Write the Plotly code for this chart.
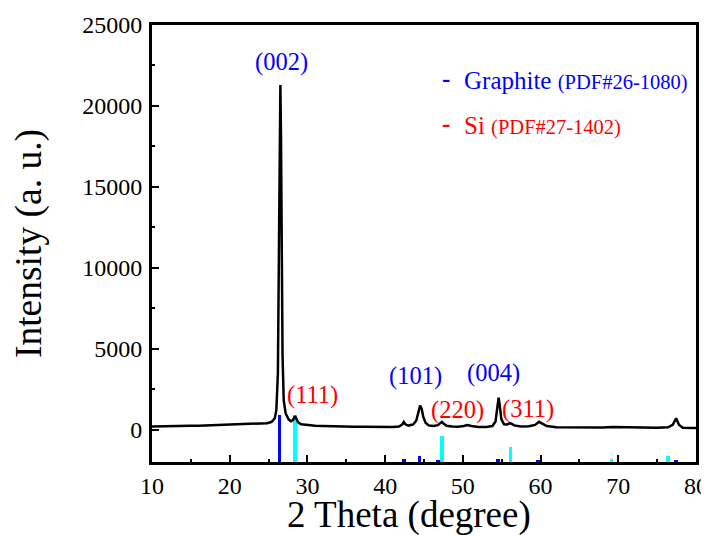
import plotly.graph_objects as go

# XRD pattern (2theta in degrees, intensity in a.u.)
two_theta = [10.0, 11, 12, 13, 14, 15, 16, 17, 18, 19, 20, 21, 22, 23, 24, 24.8, 25.4, 25.8,
             26.0, 26.2, 26.35, 26.45, 26.52, 26.6, 26.7, 26.8, 26.95, 27.2, 27.6, 27.9, 28.15,
             28.4, 28.55, 28.8, 29.2, 30, 31, 32, 33, 34, 35, 36, 37, 38, 39, 40, 41, 41.8,
             42.2, 42.4, 42.6, 43.0, 43.6, 44.0, 44.3, 44.5, 44.7, 44.9, 45.2, 45.6, 46.2, 46.8,
             47.1, 47.3, 47.5, 47.9, 48.6, 49.4, 50.1, 50.6, 51.1, 52, 53, 53.8, 54.2, 54.45,
             54.6, 54.75, 54.95, 55.3, 55.7, 56.0, 56.2, 56.6, 57.5, 58.5, 59.3, 59.8, 60.2,
             60.8, 62, 64, 66, 68, 69.3, 70, 71, 73, 75, 76.4, 77.0, 77.45, 77.8, 78.3, 79, 80]
intensity = [200, 215, 210, 225, 220, 240, 235, 255, 260, 285, 300, 315, 345, 340, 370, 400, 480, 700,
             1200, 3500, 12000, 19500, 21300, 18000, 10500, 4500, 1800, 1000, 620, 520, 600,
             830, 700, 450, 330, 270, 240, 225, 205, 200, 195, 180, 185, 170, 175, 165, 165, 190,
             320, 470, 330, 250, 320, 550, 1100, 1480, 1300, 800, 420, 260, 220, 280,
             400, 480, 380, 240, 190, 180, 220, 290, 230, 170, 170, 220, 500, 1400,
             1980, 1500, 650, 330, 320, 390, 380, 260, 200, 210, 290, 480, 360,
             220, 150, 130, 120, 130, 170, 160, 130, 110, 110, 140, 300, 700, 300, 120, 100, 100]

# Reference stick patterns (top of each stick, same intensity scale; sticks start at axis bottom)
stick_base = -2000
graphite_pos = [26.4, 42.4, 44.4, 46.8, 54.5, 59.7, 77.4]
graphite_top = [900, -1800, -1600, -1850, -1800, -1850, -1850]
si_pos = [28.4, 47.3, 56.1, 69.1, 76.4]
si_top = [900, -400, -1100, -1800, -1650]

# Peak labels
blue_labels = ["(002)", "(101)", "(004)"]
blue_label_x = [26.6, 43.85, 53.9]
blue_label_y = [22700, 3300, 3500]
red_labels = ["(111)", "(220)", "(311)"]
red_label_x = [30.7, 49.3, 58.4]
red_label_y = [2150, 1200, 1250]

y_ticks = [0, 5000, 10000, 15000, 20000, 25000]

FONT = "Liberation Serif, Times New Roman, serif"

fig = go.Figure()
fig.add_trace(go.Bar(x=graphite_pos, y=[t - stick_base for t in graphite_top], base=stick_base,
                     width=0.45, marker=dict(color="#0000ff", line=dict(width=0)), showlegend=False))
fig.add_trace(go.Bar(x=si_pos, y=[t - stick_base for t in si_top], base=stick_base,
                     width=0.45, marker=dict(color="#00ffff", line=dict(width=0)), showlegend=False))
fig.add_trace(go.Scatter(x=two_theta, y=intensity, mode="lines",
                         line=dict(color="black", width=2.5), showlegend=False))

for t, x, y in zip(blue_labels, blue_label_x, blue_label_y):
    fig.add_annotation(x=x, y=y, text=t, showarrow=False, font=dict(family=FONT, size=24.5, color="#0000ff"))
for t, x, y in zip(red_labels, red_label_x, red_label_y):
    fig.add_annotation(x=x, y=y, text=t, showarrow=False, font=dict(family=FONT, size=24.5, color="#ff0000"))

# legend
fig.add_annotation(xref="paper", yref="paper", x=0.540, y=0.878, xanchor="center", yanchor="middle",
                   text="<b>-</b>", showarrow=False, font=dict(family=FONT, size=25, color="#0000ff"))
fig.add_annotation(xref="paper", yref="paper", x=0.569, y=0.874, xanchor="left", yanchor="middle",
                   text="Graphite <span style='font-size:20.5px'>(PDF#26-1080)</span>", showarrow=False,
                   font=dict(family=FONT, size=25, color="#0000ff"))
fig.add_annotation(xref="paper", yref="paper", x=0.540, y=0.775, xanchor="center", yanchor="middle",
                   text="<b>-</b>", showarrow=False, font=dict(family=FONT, size=25, color="#ff0000"))
fig.add_annotation(xref="paper", yref="paper", x=0.569, y=0.771, xanchor="left", yanchor="middle",
                   text="Si <span style='font-size:20.5px'>(PDF#27-1402)</span>", showarrow=False,
                   font=dict(family=FONT, size=25, color="#ff0000"))

# x-axis title (placed slightly left of centre as in the original)
fig.add_annotation(xref="paper", yref="paper", x=0.472, y=-0.122, xanchor="center", yanchor="middle",
                   text="2 Theta (degree)", showarrow=False,
                   font=dict(family=FONT, size=37, color="black"))

axis_common = dict(showline=True, linecolor="black", linewidth=3, mirror=True, ticks="inside",
                   tickcolor="black", tickwidth=2, ticklen=7, showgrid=False, zeroline=False,
                   automargin=False,
                   tickfont=dict(family=FONT, size=24, color="black"),
                   minor=dict(ticks="inside", ticklen=3, tickwidth=2, tickcolor="black"))

fig.update_xaxes(range=[10, 80], dtick=10, tick0=10, minor_dtick=5, **axis_common)
fig.update_yaxes(range=[-2000, 25000], tickvals=y_ticks, ticktext=[str(v) for v in y_ticks],
                 minor_dtick=2500, minor_tick0=0, ticklabelstandoff=2,
                 title=dict(text="Intensity (a. u.)", font=dict(family=FONT, size=37.5, color="black"), standoff=30),
                 **axis_common)

# page body has an 8px margin, so the figure is 8px smaller than the window
fig.update_layout(width=701, height=528, margin=dict(l=144, r=13, t=17, b=74),
                  plot_bgcolor="white", paper_bgcolor="white", barmode="overlay", bargap=0)

fig.write_html("out.html")
